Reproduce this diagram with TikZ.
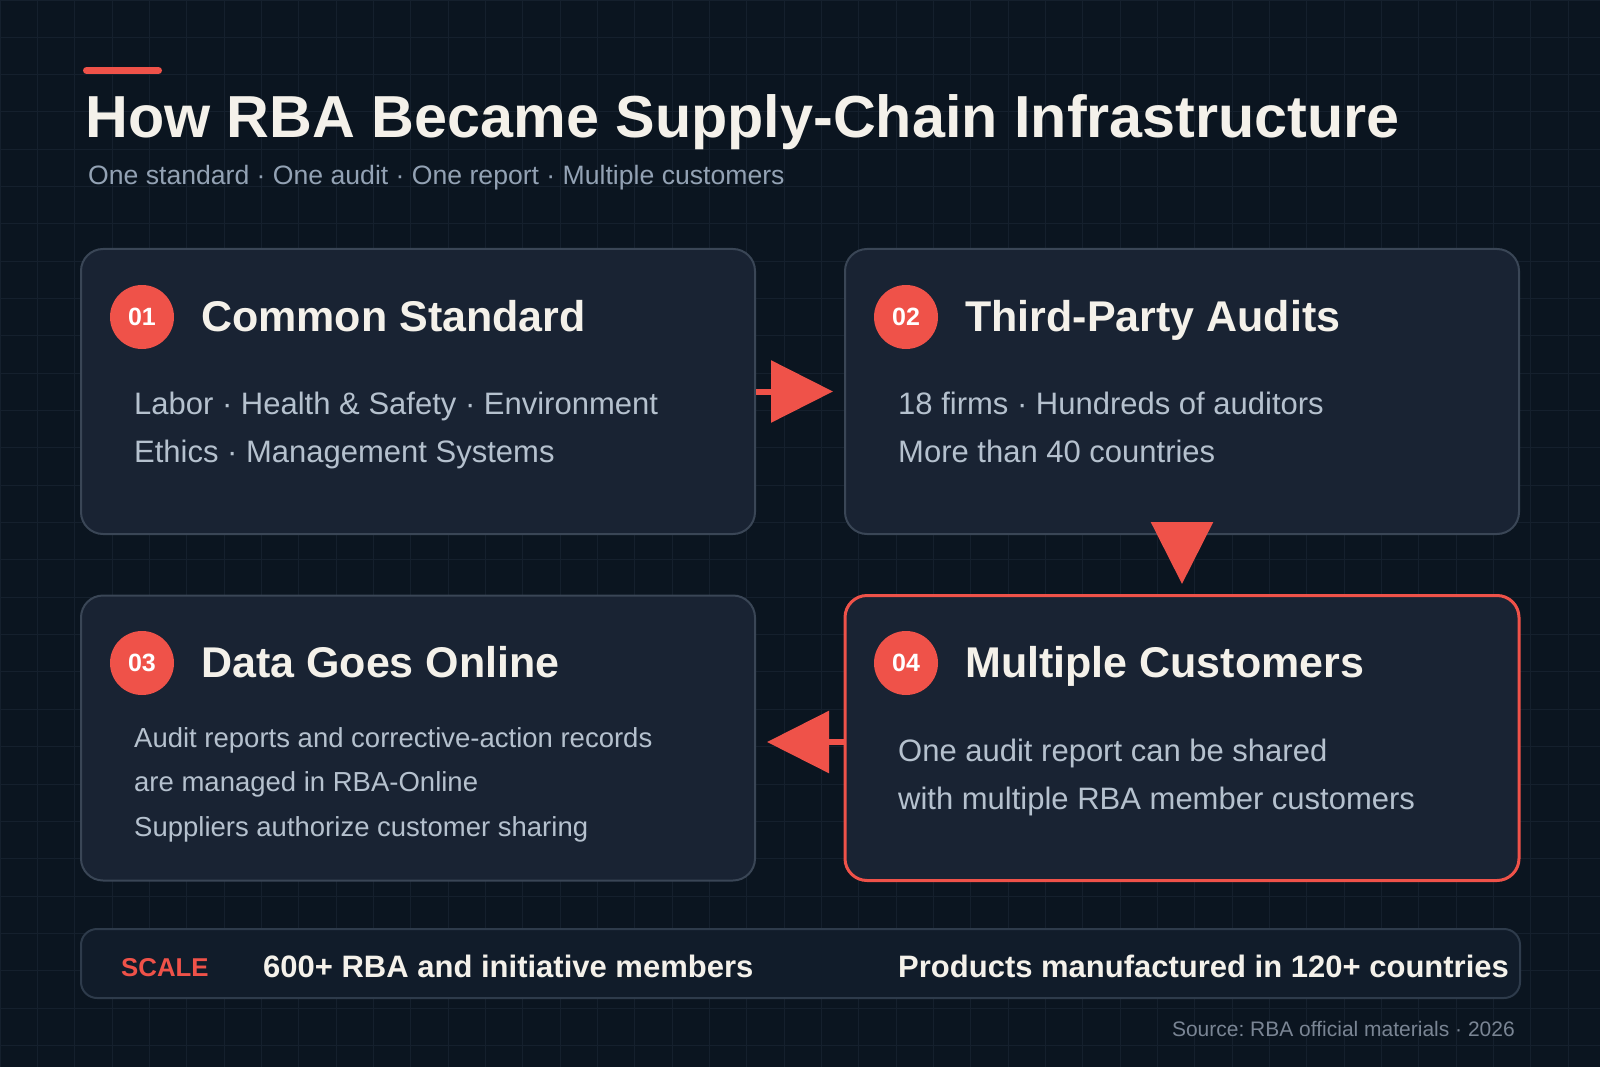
\documentclass[tikz,border=0pt]{standalone}
\usepackage{fontspec}
\setmainfont{Liberation Sans}
\usetikzlibrary{arrows.meta,positioning}
\frenchspacing

\definecolor{bgdark}{HTML}{0B1520}
\definecolor{gridcol}{HTML}{15202D}
\definecolor{cardfill}{HTML}{192333}
\definecolor{cardline}{HTML}{3A4656}
\definecolor{barfill}{HTML}{111C2A}
\definecolor{barline}{HTML}{2E3B4B}
\definecolor{accent}{HTML}{EF5249}
\definecolor{titletext}{HTML}{F4F1EA}
\definecolor{bodytext}{HTML}{B5C1CE}
\definecolor{subtext}{HTML}{93A2B4}
\definecolor{notetext}{HTML}{7A8594}

\begin{document}
\begin{tikzpicture}[x=1pt, y=-1pt,
    card/.style={rectangle, rounded corners=22pt, draw=cardline, line width=2pt, fill=cardfill, minimum width=674pt, minimum height=285pt},
    badge/.style={circle, fill=accent, minimum size=64pt, inner sep=0pt, text=white, font=\fontsize{25}{30}\selectfont\bfseries},
    head/.style={anchor=base west, inner sep=0pt, text=titletext, font=\fontsize{43}{50}\selectfont\bfseries},
    body/.style={anchor=base west, inner sep=0pt, align=left, text=bodytext, font=\fontsize{31}{48}\selectfont},
    stat/.style={anchor=base west, inner sep=0pt, text=titletext, font=\fontsize{31}{36}\selectfont\bfseries},
    flow/.style={draw=accent, line width=6pt, -{Triangle[length=62pt, width=61pt]}, shorten >=11pt}]
    \useasboundingbox (0,0) rectangle (1600,1067);
    % Background and grid
    \fill[bgdark] (0,0) rectangle (1600,1067);
    \draw[gridcol, line width=1pt, step=37.333pt] (0,0) grid (1600,1067);

    % Heading
    \draw[accent, line width=7pt, line cap=round] (86.5,70.5) -- (158.5,70.5);
    \node (title) [anchor=base west, inner sep=0pt, text=titletext, font=\fontsize{59.3}{70}\selectfont\bfseries] at (85,138) {How RBA Became Supply-Chain Infrastructure};
    \node (subtitle) [anchor=base west, inner sep=0pt, text=subtext, font=\fontsize{26.6}{32}\selectfont] at (88,185) {One standard · One audit · One report · Multiple customers};

    % Cards
    \node (c1) [card] at (418,391.5) {};
    \node (c2) [card] at (1182,391.5) {};
    \node (c3) [card] at (418,738) {};
    \node (c4) [card, draw=accent, line width=3pt] at (1182,738) {};

    % body nodes sit on the baseline of their last line
    \node (b1) [badge] at (142,317) {01};
    \node (h1) [head] at (201,331) {Common Standard};
    \node (t1) [body] at (134,462) {Labor · Health \& Safety · Environment\\Ethics · Management Systems};

    \node (b2) [badge] at (906,317) {02};
    \node (h2) [head] at (965,331) {Third-Party Audits};
    \node (t2) [body] at (898,462) {18 firms · Hundreds of auditors\\More than 40 countries};

    \node (b3) [badge] at (142,663) {03};
    \node (h3) [head] at (201,677) {Data Goes Online};
    \node (t3) [body, font=\fontsize{27.5}{44.5}\selectfont] at (134,836) {Audit reports and corrective-action records\\are managed in RBA-Online\\Suppliers authorize customer sharing};

    \node (b4) [badge] at (906,663) {04};
    \node (h4) [head] at (965,677) {Multiple Customers};
    \node (t4) [body] at (898,809) {One audit report can be shared\\with multiple RBA member customers};

    % Arrows
    \draw[flow] (c1.east) -- (c2.west);
    \draw[flow, shorten >=10pt] (c2.south) -- (c4.north);
    \draw[flow] ([yshift=-4pt]c4.west) -- ([yshift=-4pt]c3.east);

    % Scale bar
    \node (scale) [rectangle, rounded corners=16pt, draw=barline, line width=2pt, fill=barfill, minimum width=1439pt, minimum height=69pt] at (800.5,963.5) {};
    \node (scalelabel) [anchor=base west, inner sep=0pt, text=accent, font=\fontsize{25.8}{30}\selectfont\bfseries] at (121,976) {SCALE};
    \node (members) [stat] at (263,977) {600+ RBA and initiative members};
    \node (countries) [stat] at (898,977) {Products manufactured in 120+ countries};

    \node (source) [anchor=base east, inner sep=0pt, text=notetext, font=\fontsize{21}{25}\selectfont] at (1515,1036) {Source: RBA official materials · 2026};
\end{tikzpicture}
\end{document}
